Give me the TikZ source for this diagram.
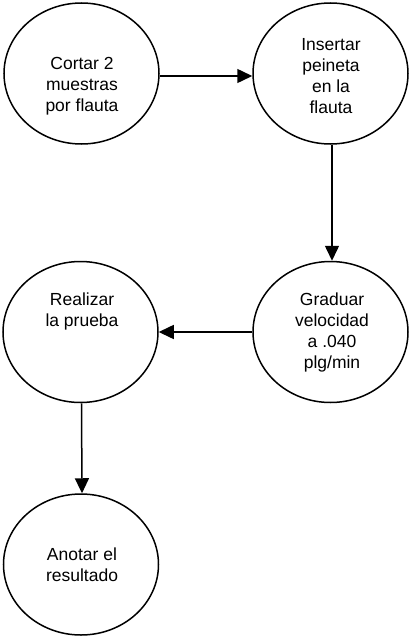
\documentclass[tikz,border=0pt]{standalone}
\usepackage{fontspec}
\setmainfont{Liberation Sans}
\usetikzlibrary{shapes.geometric,arrows.meta}

\tikzset{
  stage/.style={draw=black, line width=1.5pt, ellipse, inner sep=0pt,
                minimum width=155pt, minimum height=141pt},
  caption/.style={align=center, inner sep=0pt,
                  font=\fontsize{17.5}{21}\selectfont},
  flow/.style={draw=black, line width=1.5pt,
               -{Triangle[length=15pt,width=14pt]}}
}

\begin{document}
\begin{tikzpicture}[x=1pt,y=-1pt]
  \useasboundingbox (0,0) rectangle (409,637);

  % process stages
  \node[stage] (e1) at (81.5,73.5) {};
  \node[stage] (e2) at (330.5,73.5) {};
  \node[stage] (e3) at (80.5,332) {};
  \node[stage] (e4) at (330.5,332) {};
  \node[stage] (e5) at (81,564.5) {};

  % stage texts
  \node[caption] (t1) at (82,86) {Cortar 2\\muestras\\por flauta};
  \node[caption] (t2) at (331,76) {Insertar\\peineta\\en la\\flauta};
  \node[caption] (t3) at (82,311) {Realizar\\la prueba};
  \node[caption] (t4) at (332,332) {Graduar\\velocidad\\a .040\\plg/min};
  \node[caption] (t5) at (82,565) {Anotar el\\resultado};

  % flow between stages
  \draw[flow] ([yshift=-2.5pt]e1.east) -- ([yshift=-2.5pt]e2.west);
  \draw[flow] ([xshift=1.5pt]e2.south) -- ([xshift=1.5pt]e4.north);
  \draw[flow] (e4.west) -- (e3.east);
  \draw[flow] ([xshift=1pt]e3.south) -- ([xshift=1pt]e5.north);
\end{tikzpicture}
\end{document}
